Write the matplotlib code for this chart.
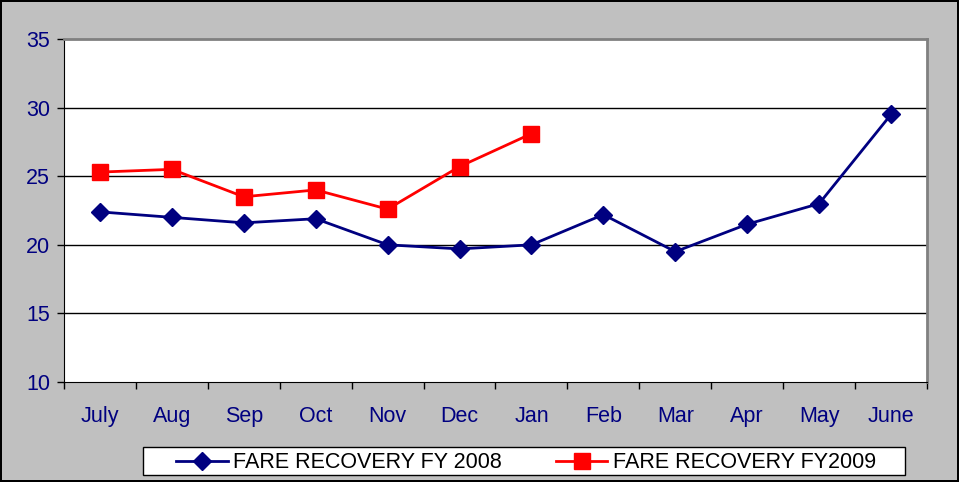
import numpy as np
import matplotlib.pyplot as plt
from matplotlib.patches import Rectangle

plt.rcParams['font.family'] = ['Liberation Sans', 'DejaVu Sans']

months = ["July", "Aug", "Sep", "Oct", "Nov", "Dec", "Jan", "Feb", "Mar", "Apr", "May", "June"]
fy2008 = [22.4, 22.0, 21.6, 21.9, 20.0, 19.7, 20.0, 22.2, 19.5, 21.5, 23.0, 29.5]
fy2009 = [25.3, 25.5, 23.5, 24.0, 22.6, 25.7, 28.1]
yticks = [10, 15, 20, 25, 30, 35]

navy = "#000080"
red = "#FF0000"

fig = plt.figure(figsize=(9.59, 4.82), dpi=100)
fig.patch.set_facecolor("#C0C0C0")
fig.patch.set_edgecolor("black")
fig.patch.set_linewidth(1.5)

ax = fig.add_axes([64 / 959, 100 / 482, 863 / 959, 343 / 482])
ax.set_facecolor("white")

x = np.arange(len(months))
ax.plot(x, fy2008, color=navy, lw=2, marker="D", ms=9, label="FARE RECOVERY FY 2008")
ax.plot(x[:len(fy2009)], fy2009, color=red, lw=2, marker="s", ms=11, label="FARE RECOVERY FY2009")

ax.set_xlim(-0.5, len(months) - 0.5)
ax.set_ylim(10, 35)
for y in yticks[1:-1]:
    ax.axhline(y, color="black", lw=1, zorder=0)

ax.set_yticks(yticks)
ax.set_yticklabels([str(v) for v in yticks], color=navy, fontsize=15.5)
ax.tick_params(axis="y", length=5, width=1, direction="out", pad=5)

ax.set_xticks(x)
ax.set_xticklabels(months, color=navy, fontsize=15.5)
ax.set_xticks(np.arange(-0.5, len(months)), minor=True)
ax.tick_params(axis="x", which="major", length=0, pad=17)
ax.tick_params(axis="x", which="minor", length=5, width=1, direction="out")

ax.spines["left"].set_color("black")
ax.spines["bottom"].set_color("black")
ax.spines["top"].set_color("#808080")
ax.spines["right"].set_color("#808080")
ax.spines["top"].set_linewidth(2)
ax.spines["right"].set_linewidth(2)

# legend box
fig.add_artist(Rectangle((143 / 959, 7 / 482), 762 / 959, 28 / 482, transform=fig.transFigure,
                         facecolor="white", edgecolor="black", lw=1, zorder=1))
leg = fig.legend(loc="center", bbox_to_anchor=(526 / 959, 19 / 482), ncol=2, fontsize=15.5,
                 frameon=False, handlelength=2.4, handletextpad=0.25, columnspacing=2.5,
                 borderpad=0, borderaxespad=0)
leg.set_zorder(2)

fig.savefig("out.png", dpi=100, facecolor=fig.get_facecolor(), edgecolor=fig.get_edgecolor())
